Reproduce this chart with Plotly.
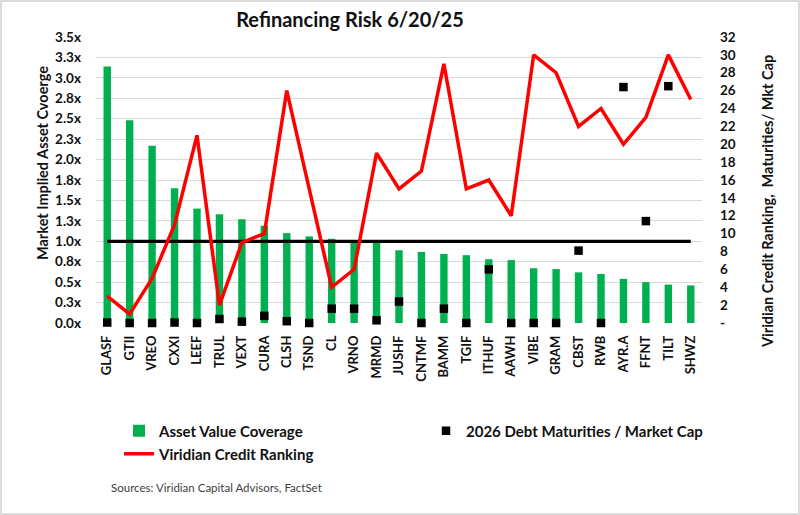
import plotly.graph_objects as go

# ---------------- data ----------------
tickers = ["GLASF", "GTII", "VREO", "CXXI", "LEEF", "TRUL", "VEXT", "CURA", "CLSH",
           "TSND", "CL", "VRNO", "MRMD", "JUSHF", "CNTMF", "BAMM", "TGIF", "ITHUF",
           "AAWH", "VIBE", "GRAM", "CBST", "RWB", "AYR.A", "FFNT", "TILT", "SHWZ"]

asset_value_coverage = [3.14, 2.48, 2.17, 1.65, 1.40, 1.33, 1.27, 1.19, 1.10,
                        1.06, 1.03, 1.00, 0.99, 0.89, 0.87, 0.845, 0.83, 0.78,
                        0.77, 0.67, 0.66, 0.62, 0.60, 0.54, 0.50, 0.47, 0.46]

credit_ranking = [3, 1, 5, 11, 21, 2, 9, 10, 26,
                  15, 4, 6, 19, 15, 17, 29, 15, 16,
                  12, 30, 28, 22, 24, 20, 23, 30, 25]

debt_maturities_mktcap = [0.05, 0.0, 0.0, 0.05, 0.0, 0.45, 0.15, 0.8, 0.2,
                          0.0, 1.6, 1.6, 0.3, 2.4, 0.0, 1.6, 0.0, 6.0,
                          0.0, 0.0, 0.0, 8.1, 0.0, 26.4, 11.4, 26.5, None]

coverage_threshold = 1.0

left_tickvals = [0, 0.25, 0.5, 0.75, 1.0, 1.25, 1.5, 1.75, 2.0, 2.25, 2.5, 2.75, 3.0, 3.25, 3.5]
left_ticktext = ["0.0x", "0.3x", "0.5x", "0.8x", "1.0x", "1.3x", "1.5x", "1.8x",
                 "2.0x", "2.3x", "2.5x", "2.8x", "3.0x", "3.3x", "3.5x"]
right_tickvals = list(range(0, 33, 2))
right_ticktext = ["-"] + [str(v) for v in range(2, 33, 2)]

# ---------------- layout geometry ----------------
W, H = 800, 515
ML, MR, MT, MB = 96, 98, 37, 192
PW, PH = W - ML - MR, H - MT - MB


def px_x(px):
    return (px - ML) / PW


def px_y(py):
    return (H - MB - py) / PH


FONT = "Lato"
GREEN = "#00b050"
RED = "#ff0000"
INK = "#111111"

fig = go.Figure()

fig.add_trace(go.Bar(
    x=tickers, y=asset_value_coverage, name="Asset Value Coverage",
    marker=dict(color=GREEN, line=dict(width=0)), width=0.33,
    legend="legend", yaxis="y",
))

fig.add_trace(go.Scatter(
    x=[tickers[0], tickers[-1]], y=[coverage_threshold, coverage_threshold],
    mode="lines", line=dict(color="black", width=3.2), showlegend=False,
    hoverinfo="skip", yaxis="y", cliponaxis=False,
))

fig.add_trace(go.Scatter(
    x=tickers, y=credit_ranking, name="Viridian Credit Ranking",
    mode="lines", line=dict(color=RED, width=3.5), legend="legend3", yaxis="y2",
    cliponaxis=False,
))

fig.add_trace(go.Scatter(
    x=tickers, y=debt_maturities_mktcap, name="2026 Debt Maturities / Market Cap",
    mode="markers", marker=dict(symbol="square", size=8.5, color="black"),
    legend="legend2", yaxis="y2", cliponaxis=False,
))

legend_font = dict(family=FONT, size=15, color=INK, weight="bold")
tick_font = dict(family=FONT, size=13.5, color=INK, weight="bold")

fig.update_layout(
    width=W, height=H,
    margin=dict(l=ML, r=MR, t=MT, b=MB),
    paper_bgcolor="white", plot_bgcolor="white",
    font=dict(family=FONT, color=INK),
    title=dict(text="Refinancing Risk 6/20/25", x=350 / W, xanchor="center",
               y=1 - 20 / H, yanchor="middle",
               font=dict(family=FONT, size=20, color=INK, weight="bold")),
    xaxis=dict(
        type="category", range=[-0.5, len(tickers) - 0.5],
        tickangle=-90, tickfont=dict(family=FONT, size=13, color=INK, weight="bold"),
        showgrid=False, showline=False, zeroline=False, ticks="",
        ticklabelstandoff=9,
    ),
    yaxis=dict(
        range=[0, 3.5], tickvals=left_tickvals, ticktext=left_ticktext,
        tickfont=tick_font,
        showgrid=True, gridcolor="#d9d9d9", gridwidth=1, zeroline=False,
        showline=False, ticks="", ticklabelstandoff=14,
    ),
    yaxis2=dict(
        range=[0, 32], tickvals=right_tickvals, ticktext=right_ticktext,
        overlaying="y", side="right", showgrid=False, zeroline=False,
        tickfont=tick_font,
        showline=False, ticks="", ticklabelstandoff=17,
    ),
    bargap=0.67,
    legend=dict(x=px_x(119), y=px_y(431), xanchor="left", yanchor="middle",
                font=legend_font, bgcolor="rgba(0,0,0,0)", orientation="v"),
    legend2=dict(x=px_x(426), y=px_y(431), xanchor="left", yanchor="middle",
                 font=legend_font, bgcolor="rgba(0,0,0,0)", orientation="v"),
    legend3=dict(x=px_x(119), y=px_y(454), xanchor="left", yanchor="middle",
                 font=legend_font, bgcolor="rgba(0,0,0,0)", orientation="v"),
    showlegend=True,
)

fig.add_annotation(
    text="Market Implied Asset Cvoerge", textangle=-90,
    xref="paper", yref="paper", x=px_x(42), y=px_y(163),
    xanchor="center", yanchor="middle", showarrow=False,
    font=dict(family=FONT, size=14.5, color=INK, weight="bold"),
)
fig.add_annotation(
    text="Viridian Credit Ranking,  Maturities/ Mkt Cap", textangle=-90,
    xref="paper", yref="paper", x=px_x(768), y=px_y(202),
    xanchor="center", yanchor="middle", showarrow=False,
    font=dict(family=FONT, size=14.5, color=INK, weight="bold"),
)
fig.add_annotation(
    text="Sources: Viridian Capital Advisors, FactSet",
    xref="paper", yref="paper", x=px_x(109), y=px_y(487),
    xanchor="left", yanchor="middle", showarrow=False,
    font=dict(family=FONT, size=11.5, color="#404040"),
)

fig.add_shape(
    type="rect", xref="paper", yref="paper",
    x0=px_x(1), x1=px_x(799), y0=px_y(514), y1=px_y(1),
    line=dict(color="#d0d0d0", width=1.5), fillcolor="rgba(0,0,0,0)", layer="below",
)

fig.write_html("out.html", config={"displayModeBar": False},
               post_script="document.body.style.margin='0';")
